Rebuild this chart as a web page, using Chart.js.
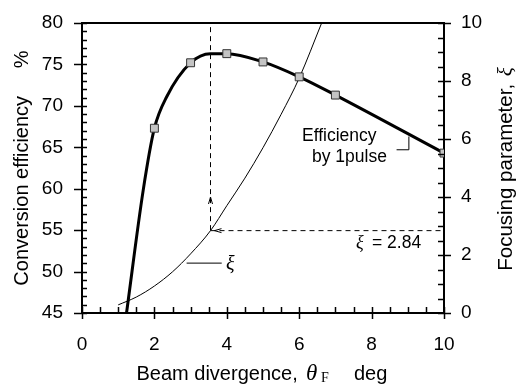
<!DOCTYPE html>
<html>
<head>
<meta charset="utf-8">
<script src="https://cdn.jsdelivr.net/npm/chart.js@4"></script>
<style>
  html, body { margin: 0; padding: 0; background: #fff; }
  #wrap { width: 516px; height: 385px; }
</style>
</head>
<body>
<div id="wrap"><canvas id="myChart" width="516" height="385"></canvas></div>
<script>
// efficiency curve (thick line)
const effX = [1.23, 1.69, 2, 2.34, 3, 3.55, 4, 5, 6, 7, 10];
const effY = [45, 59.8, 67.3, 71.1, 75.2, 76.3, 76.3, 75.3, 73.5, 71.3, 64.3];
// measured points (square markers)
const markX = [2, 3, 4, 5, 6, 7, 10];
const markY = [67.3, 75.2, 76.3, 75.3, 73.5, 71.3, 64.3];
// focusing parameter xi (thin line, right axis)
const xiX = [1.0, 1.5, 2.0, 2.5, 3.0, 3.55, 4.0, 4.5, 5.0, 5.5, 6.0, 6.62];
const xiY = [0.28, 0.55, 0.93, 1.42, 2.04, 2.84, 3.7, 4.65, 5.7, 6.85, 8.1, 10];
// optimum marker
const optX = 3.55;
const optXi = 2.84;
// tick labels
const xTicks = [0, 2, 4, 6, 8, 10];
const yTicks = [45, 50, 55, 60, 65, 70, 75, 80];
const y2Ticks = [0, 2, 4, 6, 8, 10];

const SANS = '"Liberation Sans", Arial, sans-serif';
const SERIF = '"Liberation Serif", "Times New Roman", serif';

function pts(xs, ys) {
    return xs.map(function (x, i) { return {x: x, y: ys[i]}; });
}

// minor ticks, top frame, arrows, labels and axis titles
const extras = {
    id: 'extras',
    afterDraw(chart) {
        const ctx = chart.ctx;
        const a = chart.chartArea;
        const sx = chart.scales.x, sy = chart.scales.y, sy2 = chart.scales.y2;
        ctx.save();
        ctx.strokeStyle = '#000';
        ctx.fillStyle = '#000';

        // top frame
        ctx.lineWidth = 2;
        ctx.beginPath();
        ctx.moveTo(a.left - 1, a.top);
        ctx.lineTo(a.right + 1, a.top);
        ctx.stroke();

        ctx.lineWidth = 1.5;
        ctx.beginPath();
        // bottom ticks
        for (let v = 0; v <= 10.001; v += 0.5) {
            const px = Math.round(sx.getPixelForValue(v)) + 0.5;
            const major = Math.abs(v % 2) < 0.01;
            ctx.moveTo(px, a.bottom - 6);
            ctx.lineTo(px, a.bottom + (major ? 6 : 0));
        }
        // left ticks
        for (let v = 45; v <= 80.001; v += 1) {
            const py = Math.round(sy.getPixelForValue(v)) + 0.5;
            const major = v % 5 === 0;
            ctx.moveTo(a.left - (major ? 8 : 0), py);
            ctx.lineTo(a.left + 5, py);
        }
        // right ticks
        for (let v = 0; v <= 10.001; v += 0.5) {
            const py = Math.round(sy2.getPixelForValue(v)) + 0.5;
            const major = Math.abs(v % 2) < 0.01;
            ctx.moveTo(a.right - 6, py);
            ctx.lineTo(a.right + (major ? 7 : 0), py);
        }
        ctx.stroke();

        // arrows on the dashed guide lines
        ctx.lineWidth = 1;
        const ax = sx.getPixelForValue(optX);
        const ay = sy.getPixelForValue(59);
        ctx.beginPath();
        ctx.moveTo(ax - 2, ay + 7);
        ctx.lineTo(ax, ay);
        ctx.lineTo(ax + 2, ay + 7);
        ctx.stroke();
        const hx = ax + 4;
        const hy = sy2.getPixelForValue(optXi);
        ctx.beginPath();
        ctx.moveTo(hx + 7, hy - 2);
        ctx.lineTo(hx, hy);
        ctx.lineTo(hx + 7, hy + 2);
        ctx.stroke();

        // leader lines
        ctx.beginPath();
        const ex = sx.getPixelForValue(9.03);
        ctx.moveTo(sx.getPixelForValue(8.69), sy.getPixelForValue(64.7));
        ctx.lineTo(ex, sy.getPixelForValue(64.7));
        ctx.lineTo(ex, sy.getPixelForValue(66.3));
        const ly = sy2.getPixelForValue(1.72);
        ctx.moveTo(sx.getPixelForValue(2.89), ly);
        ctx.lineTo(sx.getPixelForValue(3.86), ly);
        ctx.stroke();

        // annotations
        ctx.textBaseline = 'middle';
        ctx.textAlign = 'left';
        ctx.font = '17.5px ' + SANS;
        ctx.fillText('Efficiency', 302, 136);
        ctx.fillText('by 1pulse', 312, 157);

        ctx.font = 'italic 20px ' + SERIF;
        ctx.fillText('\u03BE', 226, ly + 2);

        ctx.font = 'italic 18px ' + SERIF;
        ctx.fillText('\u03BE', 356, 243);
        ctx.font = '17.5px ' + SANS;
        ctx.fillText('= 2.84', 372, 243);

        // axis titles
        const midY = (a.top + a.bottom) / 2;
        ctx.textBaseline = 'alphabetic';
        // left
        ctx.save();
        ctx.translate(28, midY);
        ctx.rotate(-Math.PI / 2);
        ctx.textAlign = 'center';
        ctx.font = '20px ' + SANS;
        ctx.fillText('Conversion efficiency     %', 0, 0);
        ctx.restore();

        // right
        ctx.save();
        ctx.translate(512, midY);
        ctx.rotate(-Math.PI / 2);
        ctx.textAlign = 'left';
        ctx.font = '20.5px ' + SANS;
        const r1 = 'Focusing parameter, ';
        const w1 = ctx.measureText(r1).width;
        ctx.font = 'italic 21px ' + SERIF;
        const w2 = ctx.measureText('\u03BE').width;
        const s0 = -(w1 + w2) / 2 - 2;
        ctx.font = '20.5px ' + SANS;
        ctx.fillText(r1, s0, 0);
        ctx.font = 'italic 21px ' + SERIF;
        ctx.fillText('\u03BE', s0 + w1 + 2, 0);
        ctx.restore();

        // bottom
        ctx.textAlign = 'left';
        const by = 380;
        ctx.font = '20px ' + SANS;
        ctx.fillText('Beam divergence,', 136.5, by);
        ctx.font = 'italic 23px ' + SERIF;
        ctx.fillText('\u03B8', 306, by);
        ctx.font = '14px ' + SERIF;
        ctx.fillText('F', 321, by + 2);
        ctx.font = '20px ' + SANS;
        ctx.fillText('deg', 354, by);

        ctx.restore();
    }
};

document.addEventListener('DOMContentLoaded', () => {
    const ctx = document.getElementById('myChart').getContext('2d');

    const data = {
        datasets: [
            {
                label: 'markers',
                data: pts(markX, markY),
                yAxisID: 'y',
                showLine: false,
                pointStyle: 'rect',
                pointRadius: 5.6,
                pointBorderWidth: 1,
                pointBorderColor: '#333',
                pointBackgroundColor: '#c4c4c4',
                order: 0
            },
            {
                label: 'efficiency',
                data: pts(effX, effY),
                yAxisID: 'y',
                borderColor: '#000',
                borderWidth: 3,
                cubicInterpolationMode: 'monotone',
                pointRadius: 0,
                order: 1
            },
            {
                label: 'xi',
                data: pts(xiX, xiY),
                yAxisID: 'y2',
                borderColor: '#000',
                borderWidth: 1,
                cubicInterpolationMode: 'monotone',
                pointRadius: 0,
                order: 2
            },
            {
                label: 'opt-v',
                data: [{x: optX, y: 55}, {x: optX, y: 80}],
                yAxisID: 'y',
                borderColor: '#000',
                borderWidth: 1,
                borderDash: [5, 4],
                pointRadius: 0,
                order: 3
            },
            {
                label: 'opt-h',
                data: [{x: optX, y: optXi}, {x: 10, y: optXi}],
                yAxisID: 'y2',
                borderColor: '#000',
                borderWidth: 1,
                borderDash: [5, 4],
                pointRadius: 0,
                order: 3
            }
        ]
    };

    const tickFont = {family: SANS, size: 19};

    const config = {
        type: 'line',
        data: data,
        options: {
            responsive: false,
            animation: false,
            layout: {padding: {top: 23, left: 0, right: 0, bottom: 0}},
            plugins: {
                legend: {display: false},
                tooltip: {enabled: false}
            },
            scales: {
                x: {
                    type: 'linear',
                    min: 0,
                    max: 10,
                    afterBuildTicks: s => { s.ticks = xTicks.map(v => ({value: v})); },
                    afterFit: s => { s.height = 72; s.paddingLeft = 0; s.paddingRight = 0; },
                    ticks: {font: tickFont, color: '#000', padding: 20, maxRotation: 0},
                    grid: {display: false, drawTicks: false},
                    border: {display: true, color: '#000', width: 2}
                },
                y: {
                    position: 'left',
                    min: 45,
                    max: 80,
                    afterBuildTicks: s => { s.ticks = yTicks.map(v => ({value: v})); },
                    afterFit: s => { s.width = 82; s.paddingTop = 0; s.paddingBottom = 0; },
                    ticks: {font: tickFont, color: '#000', padding: 19},
                    grid: {display: false, drawTicks: false},
                    border: {display: true, color: '#000', width: 2}
                },
                y2: {
                    position: 'right',
                    min: 0,
                    max: 10,
                    afterBuildTicks: s => { s.ticks = y2Ticks.map(v => ({value: v})); },
                    afterFit: s => { s.width = 72; s.paddingTop = 0; s.paddingBottom = 0; },
                    ticks: {font: tickFont, color: '#000', padding: 17},
                    grid: {display: false, drawTicks: false},
                    border: {display: true, color: '#000', width: 2}
                }
            }
        },
        plugins: [extras]
    };

    var chart = new Chart(ctx, config);
});
</script>
</body>
</html>
